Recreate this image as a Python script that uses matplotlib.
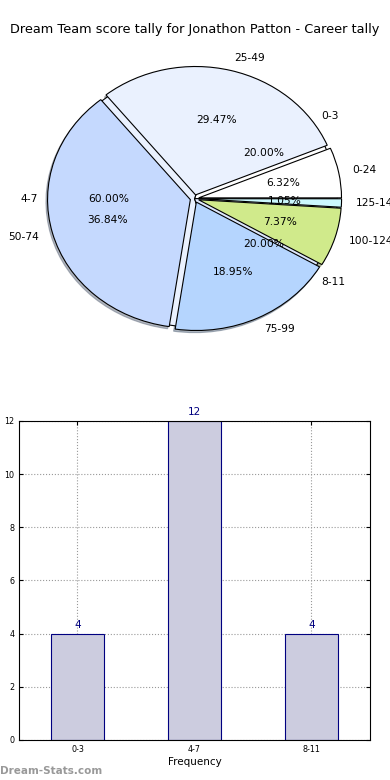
import matplotlib
matplotlib.use("Agg")
import matplotlib.pyplot as plt

# ---------------- data ----------------
title = "Dream Team score tally for Jonathon Patton - Career tally"

freq_labels = ["0-3", "4-7", "8-11"]
freq_counts = [4, 12, 4]

score_labels = ["0-24", "25-49", "50-74", "75-99", "100-124", "125-149"]
score_counts = [6, 28, 35, 18, 7, 1]

freq_colors = ["#ffffff", "#eaf1fe", "#dde7fb"]
score_colors = ["#ffffff", "#eaf1fe", "#c5d9fe", "#b5d5fe", "#d0ea8b", "#ccf8fe"]

# ---------------- figure ----------------
fig = plt.figure(figsize=(3.9, 7.8), dpi=100)
fig.text(0.5, 0.962, title, ha="center", va="center", fontsize=9.3)

# pie (two layers)
ax1 = fig.add_axes([0.041, 0.5396, 0.9154, 0.4115])
ax1.pie(freq_counts, labels=freq_labels, colors=freq_colors, autopct="%1.2f%%",
        startangle=0, wedgeprops=dict(edgecolor="black", linewidth=0.8),
        textprops=dict(fontsize=7.7))
ax1.pie(score_counts, labels=score_labels, colors=score_colors, autopct="%1.2f%%",
        startangle=0, explode=[0.03] * len(score_counts),
        shadow=dict(ox=-0.008, oy=-0.012, shade=0.5),
        wedgeprops=dict(edgecolor="black", linewidth=0.8),
        textprops=dict(fontsize=7.7))
ax1.set_aspect("auto")
ax1.set_xlim(-1.25, 1.25)
ax1.set_ylim(-1.25, 1.25)

# bar chart
ax2 = fig.add_axes([0.0487, 0.0513, 0.9, 0.409])
x = range(len(freq_labels))
bars = ax2.bar(x, freq_counts, width=0.45, color="#ccccdf", edgecolor="#000080",
               linewidth=0.8, zorder=2)
for xi, v in zip(x, freq_counts):
    ax2.text(xi, v + 0.15, str(v), ha="center", va="bottom", color="#000080",
             fontsize=7.5)
ax2.set_xlim(-0.5, 2.5)
ax2.set_ylim(0, 12)
ax2.set_yticks(range(0, 13, 2))
ax2.set_xticks(list(x))
ax2.set_xticklabels(freq_labels)
ax2.tick_params(labelsize=5.8, direction="in", top=True, right=True, length=3)
ax2.grid(True, linestyle=":", color="#999999", linewidth=0.8, zorder=0)
ax2.set_axisbelow(True)
ax2.set_xlabel("Frequency", fontsize=7.5, labelpad=2)
ax2.set_ylabel("Score Interval", fontsize=7)
ax2.yaxis.set_label_coords(-0.052, 0.5)

fig.text(0.0, 0.012, "Dream-Stats.com", ha="left", va="center", fontsize=7.5,
         color="#999999", fontweight="bold")

fig.savefig("out.png", dpi=100)
